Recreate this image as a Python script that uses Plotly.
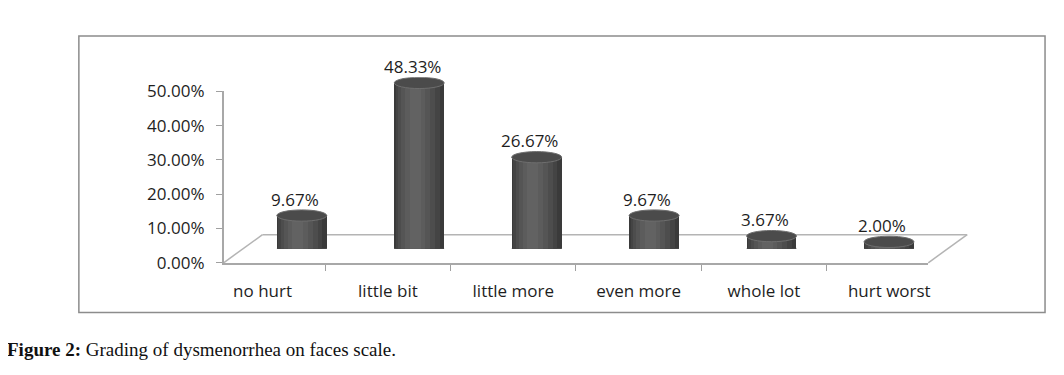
import plotly.graph_objects as go

categories = ["no hurt", "little bit", "little more", "even more", "whole lot", "hurt worst"]
values = [0.0967, 0.4833, 0.2667, 0.0967, 0.0367, 0.0200]
y_ticks = [0.0, 0.1, 0.2, 0.3, 0.4, 0.5]

# the page body adds an 8 px margin; positions below are screen pixels
OFF = 8
FW, FH = 1064 - OFF, 375 - OFF
FX0, FX1 = 224, 930          # front floor edge
FY0, FY1 = 267, 84           # y of 0% and 50%
DX, DY = 39, 30              # depth offset of the floor
MX, MY = DX / 2, DY / 2      # bars sit in the middle plane


def px_x(p):
    return (p - OFF) / FW


def px_y(p):
    return 1 - (p - OFF) / FH


BAR_W = 0.425
unit_px = (FY0 - FY1) / 0.5
ell = 6 / unit_px            # half height of the ellipses in data units

fig = go.Figure()

# invisible trace that builds the front category axis
fig.add_trace(go.Scatter(x=categories, y=[0] * len(categories), mode="markers",
                         marker=dict(opacity=0), hoverinfo="skip", showlegend=False,
                         xaxis="x", yaxis="y"))

# layered bars imitating cylinder shading
layers = [(1.0, 0.0, "#3a3a3a"), (0.88, -0.03, "#444444"), (0.74, -0.05, "#4d4d4d"),
          (0.58, -0.07, "#555555"), (0.4, -0.08, "#5c5c5c"), (0.22, -0.08, "#626262")]
for frac, shift, col in layers:
    w = BAR_W * frac
    fig.add_trace(go.Bar(x=list(range(len(categories))), y=values, width=w,
                         offset=-w / 2 + shift * BAR_W,
                         marker=dict(color=col, line=dict(width=0)),
                         xaxis="x2", yaxis="y2", showlegend=False,
                         hovertext=categories, hoverinfo="text+y"))

shapes = []
for i, v in enumerate(values):
    shapes.append(dict(type="circle", xref="x2", yref="y2", layer="below",
                       x0=i - BAR_W / 2, x1=i + BAR_W / 2, y0=-ell, y1=ell,
                       fillcolor="#3c3c3c", line=dict(width=0)))
    shapes.append(dict(type="circle", xref="x2", yref="y2", layer="above",
                       x0=i - BAR_W / 2, x1=i + BAR_W / 2, y0=v - ell, y1=v + ell,
                       fillcolor="#4b4b4b", line=dict(width=1, color="#6e6e6e")))

floor_col = "#b4b4b4"
shapes += [
    dict(type="line", xref="paper", yref="paper", layer="below",
         x0=px_x(FX0 + DX), y0=px_y(FY0 - DY), x1=px_x(FX1 + DX), y1=px_y(FY0 - DY),
         line=dict(color=floor_col, width=1.5)),
    dict(type="line", xref="paper", yref="paper", layer="below",
         x0=px_x(FX0), y0=px_y(FY0), x1=px_x(FX0 + DX), y1=px_y(FY0 - DY),
         line=dict(color=floor_col, width=1.5)),
    dict(type="line", xref="paper", yref="paper", layer="below",
         x0=px_x(FX1), y0=px_y(FY0), x1=px_x(FX1 + DX), y1=px_y(FY0 - DY),
         line=dict(color=floor_col, width=1.5)),
    dict(type="rect", xref="paper", yref="paper", layer="below",
         x0=px_x(79), y0=px_y(320), x1=px_x(1047), y1=px_y(25),
         line=dict(color="#8c8c8c", width=1.5), fillcolor="rgba(0,0,0,0)"),
]

label_font = dict(family="Open Sans", size=17, color="#1e1e1e")

annotations = []
for i, v in enumerate(values):
    annotations.append(dict(xref="x2", yref="y2", x=i, y=v, text=f"{v:.2%}",
                            showarrow=False, yanchor="bottom", xshift=-7, yshift=3,
                            font=label_font))

annotations.append(dict(xref="paper", yref="paper", x=px_x(5), y=px_y(359),
                        xanchor="left", yanchor="middle", showarrow=False,
                        text="<b>Figure 2:</b> Grading of dysmenorrhea on faces scale.",
                        font=dict(family="Liberation Serif", size=19, color="#111111")))

fig.update_layout(
    width=FW, height=FH, autosize=False,
    margin=dict(l=0, r=0, t=0, b=0),
    paper_bgcolor="white", plot_bgcolor="rgba(0,0,0,0)",
    barmode="overlay", bargap=0,
    showlegend=False,
    shapes=shapes, annotations=annotations,
    xaxis=dict(domain=[px_x(FX0), px_x(FX1)], type="category",
               categoryorder="array", categoryarray=categories,
               tickson="boundaries", ticks="outside", ticklen=6, tickcolor="#a0a0a0",
               showline=True, linecolor="#a8a8a8", linewidth=1.5,
               showgrid=False, zeroline=False, tickfont=label_font,
               ticklabelstandoff=12, fixedrange=True),
    yaxis=dict(domain=[px_y(FY0), px_y(FY1)], range=[0, 0.5],
               tickvals=y_ticks, tickformat=".2%", ticks="outside", ticklen=6,
               tickcolor="#a0a0a0", showline=True, linecolor="#a8a8a8", linewidth=1.5,
               showgrid=False, zeroline=False, tickfont=label_font,
               ticklabelstandoff=8, fixedrange=True),
    xaxis2=dict(domain=[px_x(FX0 + MX), px_x(FX1 + MX)], range=[-0.5, len(categories) - 0.5],
                anchor="y2", visible=False, fixedrange=True),
    yaxis2=dict(domain=[px_y(FY0 - MY), px_y(FY1 - MY)], range=[0, 0.5],
                anchor="x2", visible=False, fixedrange=True),
)

fig.write_html("out.html")
